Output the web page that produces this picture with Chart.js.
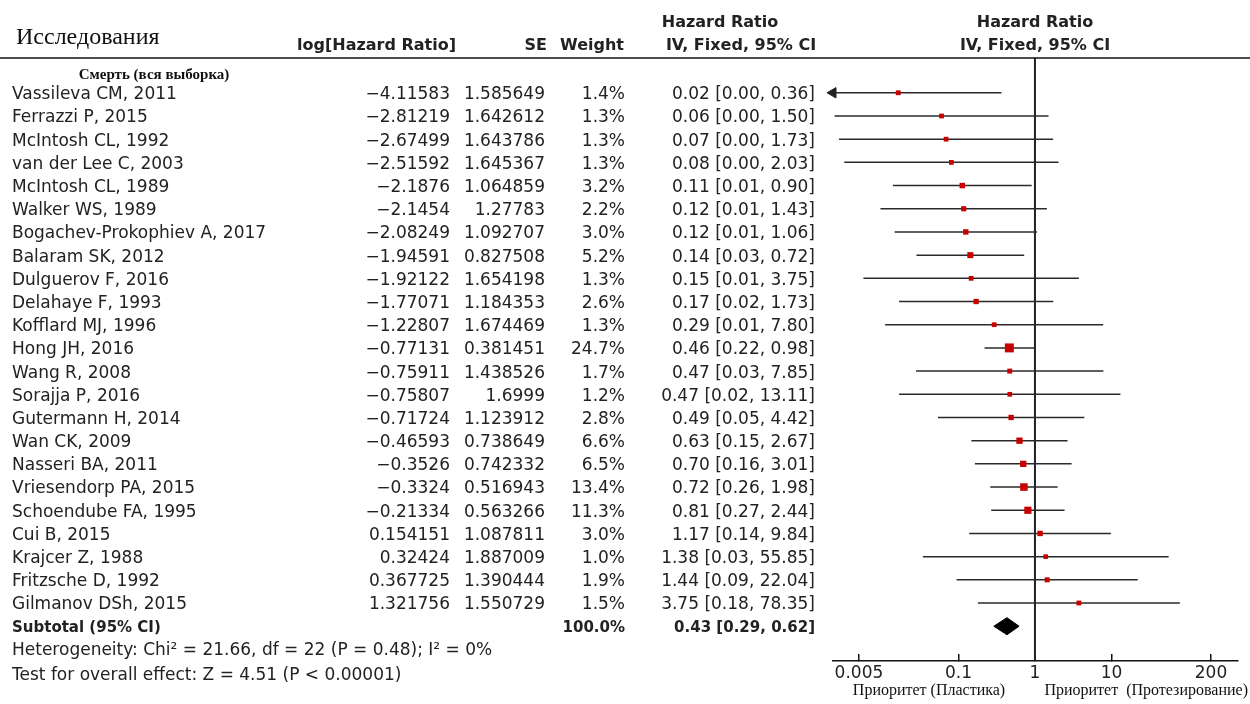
<!DOCTYPE html>
<html>
<head>
<meta charset="utf-8">
<script src="https://cdn.jsdelivr.net/npm/chart.js@4"></script>
<style>
  body { margin: 0; background: #fff; }
  canvas { display: block; }
</style>
</head>
<body>
<canvas id="forest" width="1250" height="704"></canvas>
<script>
/* Forest plot: Смерть (вся выборка) */
const studies = ["Vassileva CM, 2011", "Ferrazzi P, 2015", "McIntosh CL, 1992", "van der Lee C, 2003",
  "McIntosh CL, 1989", "Walker WS, 1989", "Bogachev-Prokophiev A, 2017", "Balaram SK, 2012",
  "Dulguerov F, 2016", "Delahaye F, 1993", "Kofflard MJ, 1996", "Hong JH, 2016", "Wang R, 2008",
  "Sorajja P, 2016", "Gutermann H, 2014", "Wan CK, 2009", "Nasseri BA, 2011", "Vriesendorp PA, 2015",
  "Schoendube FA, 1995", "Cui B, 2015", "Krajcer Z, 1988", "Fritzsche D, 1992", "Gilmanov DSh, 2015"];
const logHR = [-4.11583, -2.81219, -2.67499, -2.51592, -2.1876, -2.1454, -2.08249, -1.94591,
  -1.92122, -1.77071, -1.22807, -0.77131, -0.75911, -0.75807, -0.71724, -0.46593, -0.3526,
  -0.3324, -0.21334, 0.154151, 0.32424, 0.367725, 1.321756];
const se = [1.585649, 1.642612, 1.643786, 1.645367, 1.064859, 1.27783, 1.092707, 0.827508,
  1.654198, 1.184353, 1.674469, 0.381451, 1.438526, 1.6999, 1.123912, 0.738649, 0.742332,
  0.516943, 0.563266, 1.087811, 1.887009, 1.390444, 1.550729];
const weight = [1.4, 1.3, 1.3, 1.3, 3.2, 2.2, 3.0, 5.2, 1.3, 2.6, 1.3, 24.7, 1.7, 1.2, 2.8,
  6.6, 6.5, 13.4, 11.3, 3.0, 1.0, 1.9, 1.5];
const hr = [0.02, 0.06, 0.07, 0.08, 0.11, 0.12, 0.12, 0.14, 0.15, 0.17, 0.29, 0.46, 0.47, 0.47,
  0.49, 0.63, 0.70, 0.72, 0.81, 1.17, 1.38, 1.44, 3.75];
const ciLow = [0.00, 0.00, 0.00, 0.00, 0.01, 0.01, 0.01, 0.03, 0.01, 0.02, 0.01, 0.22, 0.03,
  0.02, 0.05, 0.15, 0.16, 0.26, 0.27, 0.14, 0.03, 0.09, 0.18];
const ciHigh = [0.36, 1.50, 1.73, 2.03, 0.90, 1.43, 1.06, 0.72, 3.75, 1.73, 7.80, 0.98, 7.85,
  13.11, 4.42, 2.67, 3.01, 1.98, 2.44, 9.84, 55.85, 22.04, 78.35];

const pooled = 0.43, pooledLow = 0.29, pooledHigh = 0.62, pooledWeight = 100.0;
const xTicks = [0.005, 0.1, 1, 10, 200];
const xMin = 0.00229, xMax = 451;

const subRow = studies.length + 1;
const sans = "'DejaVu Sans', sans-serif";
const serif = "'Liberation Serif', serif";

const squares = {
  data: logHR.map((v, i) => ({ x: Math.exp(v), y: i + 1 })),
  showLine: false,
  pointStyle: "rect",
  backgroundColor: "#c80000",
  borderWidth: 0,
  pointRadius: (c) => (3.5 + 1.1 * Math.sqrt(weight[c.dataIndex] || 0)) / Math.SQRT2,
};

const arrowData = [];
logHR.forEach((v, i) => {
  if (Math.exp(v - 1.96 * se[i]) < xMin) arrowData.push({ x: xMin, y: i + 1 });
});
const arrows = {
  data: arrowData,
  showLine: false,
  pointStyle: "triangle",
  rotation: -90,
  pointRadius: 6,
  backgroundColor: "#222",
  borderColor: "#222",
  borderWidth: 1,
  clip: false,
};

const ciLines = logHR.map((v, i) => ({
  data: [{ x: Math.exp(v - 1.96 * se[i]), y: i + 1 }, { x: Math.exp(v + 1.96 * se[i]), y: i + 1 }],
  showLine: true,
  pointRadius: 0,
  borderColor: "#2a2a2a",
  borderWidth: 1.5,
}));

const diamond = {
  data: [
    { x: pooledLow, y: subRow }, { x: pooled, y: subRow - 0.37 },
    { x: pooledHigh, y: subRow }, { x: pooled, y: subRow + 0.37 },
    { x: pooledLow, y: subRow },
  ],
  showLine: true,
  fill: "shape",
  pointRadius: 0,
  borderColor: "#000",
  backgroundColor: "#000",
  borderWidth: 1,
};

const refLine = {
  data: [{ x: 1, y: -0.5 }, { x: 1, y: 25.5 }],
  showLine: true,
  pointRadius: 0,
  borderColor: "#222",
  borderWidth: 2,
};

function fmtNum(v) {
  return String(v).replace("-", "\u2212");
}

const tablePlugin = {
  id: "table",
  afterDraw(chart) {
    const ctx = chart.ctx;
    const ys = chart.scales.y;
    const top = chart.chartArea.top;
    ctx.save();

    ctx.strokeStyle = "#111";
    ctx.lineWidth = 1.5;
    ctx.beginPath();
    ctx.moveTo(0, top);
    ctx.lineTo(chart.width, top);
    ctx.stroke();

    ctx.textBaseline = "middle";

    // headers
    ctx.font = "24px " + serif;
    ctx.textAlign = "left";
    ctx.fillStyle = "#111";
    ctx.fillText("Исследования", 16, 38);
    ctx.fillStyle = "#222";
    ctx.font = "bold 16px " + sans;
    ctx.textAlign = "right";
    ctx.fillText("log[Hazard Ratio]", 456, 46);
    ctx.fillText("SE", 547, 46);
    ctx.fillText("Weight", 624, 46);
    ctx.textAlign = "center";
    ctx.fillText("Hazard Ratio", 720, 23);
    ctx.fillText("IV, Fixed, 95% CI", 741, 46);
    ctx.fillText("Hazard Ratio", 1035, 23);
    ctx.fillText("IV, Fixed, 95% CI", 1035, 46);

    ctx.font = "bold 15px " + serif;
    ctx.fillStyle = "#111";
    ctx.fillText("Смерть (вся выборка)", 154, 75);

    // study rows
    ctx.fillStyle = "#222";
    ctx.font = "17px " + sans;
    studies.forEach((name, i) => {
      const y = ys.getPixelForValue(i + 1) + 2;
      ctx.textAlign = "left";
      ctx.fillText(name, 12, y);
      ctx.textAlign = "right";
      ctx.fillText(fmtNum(logHR[i]), 450, y);
      ctx.fillText(String(se[i]), 545, y);
      ctx.fillText(weight[i].toFixed(1) + "%", 625, y);
      ctx.fillText(hr[i].toFixed(2) + " [" + ciLow[i].toFixed(2) + ", " + ciHigh[i].toFixed(2) + "]", 815, y);
    });

    // subtotal
    const ySub = ys.getPixelForValue(subRow) + 2;
    ctx.font = "bold 15px " + sans;
    ctx.textAlign = "left";
    ctx.fillText("Subtotal (95% CI)", 12, ySub);
    ctx.textAlign = "right";
    ctx.fillText(pooledWeight.toFixed(1) + "%", 625, ySub);
    ctx.fillText(pooled.toFixed(2) + " [" + pooledLow.toFixed(2) + ", " + pooledHigh.toFixed(2) + "]", 815, ySub);

    ctx.font = "17px " + sans;
    ctx.textAlign = "left";
    ctx.fillText("Heterogeneity: Chi\u00b2 = 21.66, df = 22 (P = 0.48); I\u00b2 = 0%", 12, 651);
    ctx.fillText("Test for overall effect: Z = 4.51 (P < 0.00001)", 12, 676);

    // favours labels
    ctx.font = "16px " + serif;
    ctx.fillStyle = "#111";
    ctx.textAlign = "center";
    ctx.fillText("Приоритет (Пластика)", 929, 691);
    ctx.textAlign = "right";
    ctx.fillText("Приоритет  (Протезирование)", 1248, 691);

    ctx.restore();
  },
};

Chart.defaults.font.family = sans;
Chart.defaults.color = "#222";

const config = {
  type: "scatter",
  data: { datasets: [squares, arrows, diamond, ...ciLines, refLine] },
  options: {
    responsive: false,
    animation: false,
    events: [],
    layout: { autoPadding: false, padding: { left: 833, right: 12, top: 58, bottom: 0 } },
    plugins: { legend: { display: false }, tooltip: { enabled: false } },
    scales: {
      x: {
        type: "logarithmic",
        min: xMin,
        max: xMax,
        afterBuildTicks: (scale) => { scale.ticks = xTicks.map((v) => ({ value: v })); },
        afterFit: (scale) => { scale.height = 43; },
        ticks: {
          autoSkip: false,
          maxRotation: 0,
          padding: 9,
          color: "#222",
          font: { size: 17 },
          callback: (v) => String(v),
        },
        grid: { drawOnChartArea: false, drawTicks: true, tickLength: -7, color: "#111", lineWidth: 1.5 },
        border: { display: true, color: "#111", width: 1.5 },
      },
      y: {
        type: "linear",
        reverse: true,
        min: -0.5,
        max: 25.5,
        display: false,
      },
    },
  },
  plugins: [tablePlugin],
};

var forestChart = new Chart(document.getElementById("forest"), config);
</script>
</body>
</html>
